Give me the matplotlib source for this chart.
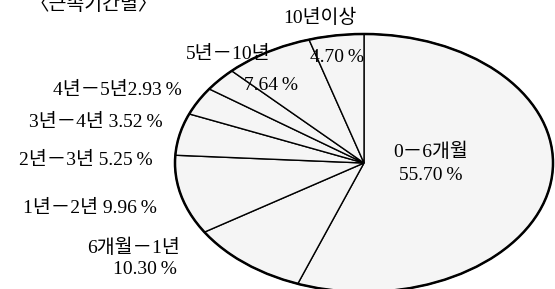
import matplotlib
matplotlib.use("Agg")
import matplotlib.pyplot as plt
from matplotlib.patches import Circle

# -----------------------------
# Data (근속기간별 비중, %)
# -----------------------------
categories = ["0－6개월", "6개월－1년", "1년－2년", "2년－3년",
              "3년－4년", "4년－5년", "5년－10년", "10년이상"]
shares = [55.70, 10.30, 9.96, 5.25, 3.52, 2.93, 7.64, 4.70]
title = "〈근속기간별〉"

W, H = 555, 289
FONT = ["Liberation Serif", "Noto Sans CJK KR", "DejaVu Sans"]
THIN = "\u2009"


def px(x, y):
    return x / W, 1 - y / H


def pct(v):
    return f"{v:.2f}{THIN}%"


fig = plt.figure(figsize=(W / 100, H / 100), dpi=100)

# ellipse spans x 175..553, y 34..292 (pixels)
left, right, top, bottom = 175, 553, 34, 292
ax = fig.add_axes([left / W, 1 - bottom / H, (right - left) / W, (bottom - top) / H])

wedges, _ = ax.pie(
    shares,
    startangle=90,
    counterclock=False,
    colors=["#f5f5f5"] * len(shares),
    wedgeprops=dict(edgecolor="black", linewidth=1.0),
)
for w in wedges:
    w.set_clip_on(False)

ax.add_patch(Circle((0, 0), 1, fill=False, edgecolor="black", linewidth=1.8, clip_on=False))
ax.set_aspect("auto")
ax.set_xlim(-1, 1)
ax.set_ylim(-1, 1)
ax.axis("off")

fs = 14

# labels: (text, x, y, ha)
labels = [
    (categories[7], 320, 18, "center"),
    (pct(shares[7]), 337, 58, "center"),
    (categories[6], 228, 54, "center"),
    (pct(shares[6]), 271, 85, "center"),
    (f"{categories[5]}{pct(shares[5])}", 182, 90, "right"),
    (f"{categories[4]} {pct(shares[4])}", 163, 122, "right"),
    (f"{categories[3]} {pct(shares[3])}", 153, 160, "right"),
    (f"{categories[2]} {pct(shares[2])}", 157, 208, "right"),
    (categories[1], 180, 248, "right"),
    (pct(shares[1]), 177, 270, "right"),
    (categories[0], 431, 152, "center"),
    (pct(shares[0]), 431, 176, "center"),
]
for text, x, y, ha in labels:
    fig.text(*px(x, y), text, ha=ha, va="center", fontsize=fs, family=FONT)

# title, cut off at the top like the scan
fig.text(*px(30, 10), title, ha="left", va="baseline", fontsize=14, family=FONT)

fig.savefig("out.png", dpi=100)
